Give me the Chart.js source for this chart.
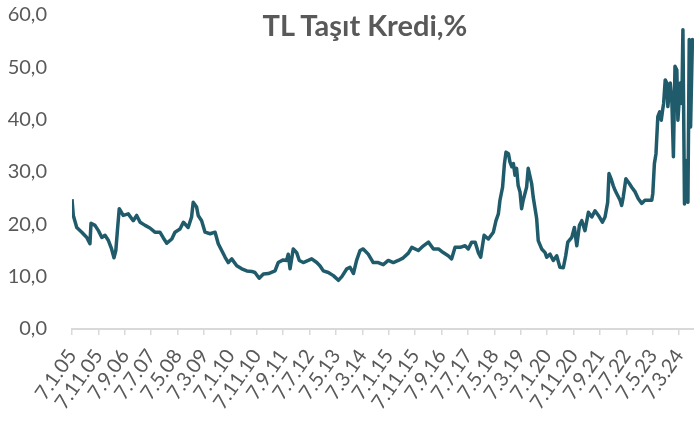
<!DOCTYPE html>
<html>
<head>
<meta charset="utf-8">
<script src="https://cdn.jsdelivr.net/npm/chart.js@4"></script>
<style>
  body { margin: 0; background: #fff; }
  #wrap { position: relative; width: 694px; height: 421px; }
  #title {
    position: absolute; left: 165px; width: 400px; top: 7px;
    text-align: center; font: bold 29px Lato, sans-serif; line-height: 36px;
    color: #595959;
  }
</style>
</head>
<body>
<div id="wrap">
  <canvas id="chart"></canvas>
  <div id="title">TL Taşıt Kredi,%</div>
</div>
<script>
// x positions are months since 7.1.05
const months = [
  0, 0.5, 1.8, 3.7, 5.6, 6.8, 7.2, 8.7, 10.0, 11.3, 12.5, 13.8, 15.0, 15.9, 16.6, 17.3, 17.9, 19.4, 21.3, 23.2,
  24.5, 25.8, 27.7, 29.5, 31.4, 33.3, 34.6, 35.9, 37.8, 39.0, 40.9, 42.2,
  44.0, 45.3, 45.9, 47.2, 47.8, 49.1, 50.4, 52.3, 54.2, 55.4, 56.7, 58.0, 59.2, 60.5, 62.4, 64.3, 66.2, 68.1,
  69.3, 70.9, 72.5, 74.4, 76.9, 78.1, 80.0, 81.3, 81.9, 82.6, 83.8, 85.1,
  86.1, 87.6, 89.5, 90.8, 92.7, 93.9, 95.2, 97.1, 99.0, 100.9, 102.2, 104.1, 105.3, 106.6, 107.8, 109.1, 110.3, 112.2,
  114.1, 116.0, 117.9, 119.8, 121.7, 123.6, 125.5, 127.4, 128.7,
  131.2, 133.1, 135.0, 136.9, 138.8, 140.6, 142.5, 143.8, 145.1, 147.0, 148.9, 150.1, 151.4, 152.7, 153.9, 154.8,
  156.1, 157.7, 159.6, 160.6, 161.5, 162.1, 163.1, 163.8, 164.4, 165.3, 165.9, 166.6, 167.2, 167.8, 168.4, 169.0,
  169.7, 170.3, 170.9, 172.2, 172.8,
  174.1, 174.7, 176.0, 176.6, 177.9, 179.2, 179.8, 181.1, 182.3, 183.6, 184.8, 186.1, 187.0, 187.8, 189.3, 190.3,
  191.2, 192.2, 193.1, 194.3, 195.6, 196.9, 198.1, 199.4, 200.9, 201.9, 202.9, 203.4, 204.2, 205.0,
  205.7, 206.3, 207.6, 208.2, 208.8, 209.8, 211.1, 212.0, 213.3, 214.5, 215.8, 217.0, 219.6, 220.0, 220.6, 221.2,
  221.9, 222.6, 223.2, 223.7, 224.1, 224.7, 225.3, 225.7, 226.6, 227.2, 227.8, 228.4, 229.1, 229.5, 230.4, 231.0,
  231.4, 232.0, 232.5, 233.3, 233.8, 234.3, 235.0, 235.8
];

const rates = [
  24.8, 21.7, 19.4, 18.5, 17.5, 16.3, 20.2, 19.8, 18.8, 17.5, 17.9, 16.9, 15.3, 13.6, 15.0, 19.4, 23.0, 21.7, 22.0, 20.7,
  21.7, 20.4, 19.8, 19.3, 18.5, 18.5, 17.4, 16.4, 17.2, 18.5, 19.1, 20.4,
  19.4, 21.4, 24.2, 23.3, 21.7, 20.7, 18.5, 18.2, 18.5, 16.3, 15.0, 13.7, 12.7, 13.4, 12.1, 11.5, 11.1, 11.0,
  10.8, 9.7, 10.5, 10.6, 11.1, 12.7, 13.2, 13.1, 14.3, 11.5, 15.3, 14.6,
  13.1, 12.7, 13.1, 13.4, 12.7, 12.1, 11.1, 10.8, 10.2, 9.3, 10.0, 11.5, 11.8, 10.6, 13.1, 15.0, 15.3, 14.3,
  12.7, 12.7, 12.3, 13.1, 12.7, 13.1, 13.6, 14.5, 15.6,
  15.0, 15.9, 16.6, 15.3, 15.3, 14.6, 14.0, 13.4, 15.6, 15.6, 15.9, 15.3, 16.6, 16.6, 14.6, 13.7,
  17.9, 17.2, 18.5, 20.7, 22.0, 24.6, 27.1, 31.6, 33.8, 33.5, 31.9, 31.0, 31.6, 29.4, 30.7, 27.4,
  26.2, 23.0, 24.6, 27.1, 30.7,
  27.8, 25.2, 21.1, 16.9, 15.3, 14.6, 13.7, 14.3, 13.1, 14.0, 11.8, 11.7, 14.0, 16.6, 17.5, 19.4,
  15.9, 19.8, 20.7, 18.8, 22.3, 21.4, 22.6, 21.7, 20.4, 21.4, 24.2, 29.7, 28.7, 27.4,
  26.5, 25.9, 24.6, 23.6, 25.2, 28.7, 27.8, 27.1, 26.2, 24.9, 24.0, 24.6, 24.6, 25.9, 31.6, 33.5,
  40.6, 41.5, 39.9, 41.8, 43.1, 47.6, 47.0, 42.5, 47.0, 43.8, 32.9, 50.2, 49.5, 39.9, 47.0, 43.1,
  57.2, 23.9, 32.2, 24.2, 55.3, 38.6, 55.3, 55.0, 50.8
];

const tickLabels = [
  '7.1.05', '7.11.05', '7.9.06', '7.7.07', '7.5.08', '7.3.09', '7.1.10', '7.11.10',
  '7.9.11', '7.7.12', '7.5.13', '7.3.14', '7.1.15', '7.11.15', '7.9.16', '7.7.17',
  '7.5.18', '7.3.19', '7.1.20', '7.11.20', '7.9.21', '7.7.22', '7.5.23', '7.3.24'
];
const tickStep = 10;   // months between labels
const lastMonth = 235.6;

const textGray = '#595959';
const axisGray = '#d9d9d9';

new Chart(document.getElementById('chart'), {
  type: 'line',
  data: {
    datasets: [{
      label: 'TL Taşıt Kredi',
      data: months.map((m, i) => ({ x: m, y: rates[i] })),
      borderColor: '#1f5b6a',
      borderWidth: 3.5,
      pointRadius: 0,
      tension: 0,
      borderJoinStyle: 'round',
      fill: false,
    }]
  },
  options: {
    responsive: true, maintainAspectRatio: false, animation: false,
    layout: { padding: { top: 15, right: 0, left: 0, bottom: 0 } },
    plugins: { legend: { display: false }, tooltip: { enabled: false } },
    scales: {
      x: {
        type: 'linear', min: 0, max: lastMonth,
        afterBuildTicks: s => { s.ticks = tickLabels.map((_, i) => ({ value: i * tickStep })); },
        afterFit: s => { s.height = 92; s.paddingLeft = 0; s.paddingRight = 0; },
        grid: { display: true, drawOnChartArea: false, drawTicks: true, tickLength: 6, color: axisGray, lineWidth: 1.5 },
        border: { display: true, color: axisGray, width: 2 },
        ticks: {
          autoSkip: false, minRotation: 55, maxRotation: 55, padding: 10,
          color: textGray, font: { family: 'Lato', size: 20 },
          callback: (v, i) => tickLabels[i]
        }
      },
      y: {
        min: 0, max: 60,
        afterFit: s => { s.width = 72; s.paddingTop = 0; s.paddingBottom = 0; },
        grid: { display: false, drawTicks: false },
        border: { display: false },
        ticks: {
          stepSize: 10, padding: 25,
          color: textGray, font: { family: 'Lato', size: 20 },
          callback: v => v.toFixed(1).replace('.', ',')
        }
      }
    }
  }
});
</script>
</body>
</html>
